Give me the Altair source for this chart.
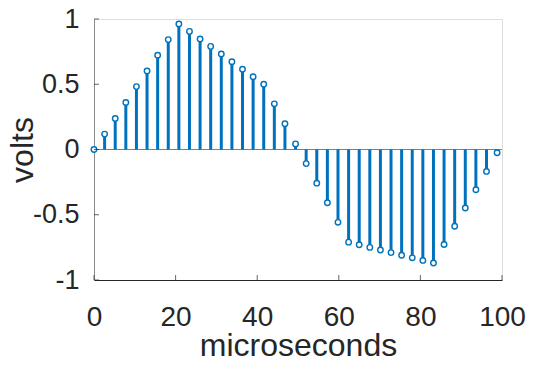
import altair as alt
import pandas as pd

# sample times (microseconds) and values (volts)
t_us = [0, 2.6, 5.2, 7.8, 10.4, 13.0, 15.6, 18.2, 20.8, 23.4,
        26.0, 28.6, 31.2, 33.8, 36.4, 39.0, 41.6, 44.2, 46.8, 49.4,
        52.0, 54.6, 57.2, 59.8, 62.4, 65.0, 67.6, 70.2, 72.8, 75.4,
        78.0, 80.6, 83.2, 85.8, 88.4, 91.0, 93.6, 96.2, 98.8]
volts = [0.0, 0.118, 0.238, 0.36, 0.482, 0.602, 0.722, 0.842, 0.962, 0.905,
         0.847, 0.79, 0.732, 0.672, 0.615, 0.557, 0.5, 0.35, 0.197, 0.043,
         -0.108, -0.258, -0.408, -0.558, -0.71, -0.73, -0.75, -0.77, -0.79, -0.81,
         -0.83, -0.85, -0.87, -0.728, -0.588, -0.448, -0.308, -0.168, -0.025]

x_ticks = [0, 20, 40, 60, 80, 100]
y_ticks = [-1, -0.5, 0, 0.5, 1]

df = pd.DataFrame({"t": t_us, "v": volts})
xt = pd.DataFrame({"xt": x_ticks})
yt = pd.DataFrame({"yt": y_ticks})

BLUE = "#0072BD"
FONT = "Liberation Sans"
TXT = "#262626"

W, H = 408, 261
PAD_L, PAD_T, PAD_R, PAD_B = 86, 11, 24, 84

xscale = alt.Scale(domain=[0, 100], nice=False, zero=False)
yscale = alt.Scale(domain=[-1, 1], nice=False, zero=False)

xaxis = alt.Axis(values=x_ticks, ticks=False, grid=False, domainColor=TXT,
                 domainWidth=1, labelFont=FONT, labelFontSize=28, labelColor=TXT,
                 labelBaseline="alphabetic", labelPadding=45, labelFlush=False,
                 labelExpr="'' + datum.value",
                 title="microseconds", titleFont=FONT, titleFontSize=32,
                 titleFontWeight="normal", titleColor=TXT, titleBaseline="alphabetic",
                 titleX=W / 2, titleY=75, titleAnchor="middle")
yaxis = alt.Axis(values=y_ticks, ticks=False, grid=False, domainColor="#8c8c8c",
                 domainWidth=1, labelFont=FONT, labelFontSize=27, labelColor=TXT,
                 labelBaseline="middle", labelPadding=15, labelFlush=False,
                 labelExpr="'' + datum.value",
                 title="volts", titleFont=FONT, titleFontSize=32,
                 titleFontWeight="normal", titleColor=TXT, titleBaseline="alphabetic",
                 titleX=-62, titleY=H / 2, titleAngle=270, titleAnchor="middle")

stems = alt.Chart(df).mark_rule(color=BLUE, strokeWidth=3).encode(
    x=alt.X("t:Q", scale=xscale, axis=xaxis),
    y=alt.Y("v:Q", scale=yscale, axis=yaxis),
    y2=alt.datum(0),
)

baseline = alt.Chart(df).mark_rule(color="#7f7f7f", strokeWidth=1).encode(
    x=alt.datum(0, scale=xscale), x2=alt.datum(100), y=alt.datum(0, scale=yscale)
)

points = alt.Chart(df).mark_point(shape="circle", filled=True, fill="white",
                                  stroke=BLUE, strokeWidth=1.4, size=30,
                                  opacity=1).encode(
    x=alt.X("t:Q", scale=xscale), y=alt.Y("v:Q", scale=yscale)
)

ytick_marks = alt.Chart(yt).mark_tick(orient="horizontal", color=TXT, size=5,
                                      thickness=1, xOffset=2.5).encode(
    x=alt.datum(0, scale=xscale), y=alt.Y("yt:Q", scale=yscale)
)
xtick_marks = alt.Chart(xt).mark_tick(orient="vertical", color=TXT, size=5,
                                      thickness=1, yOffset=-2.5).encode(
    x=alt.X("xt:Q", scale=xscale), y=alt.datum(-1, scale=yscale)
)

chart = alt.layer(baseline, stems, points, ytick_marks, xtick_marks).properties(
    width=W, height=H,
    autosize=alt.AutoSizeParams(type="none"),
    padding={"left": PAD_L, "top": PAD_T, "right": PAD_R, "bottom": PAD_B},
).configure_view(stroke=None).configure(background="white")

chart.save("out.html", embed_options={"renderer": "svg", "actions": False})
